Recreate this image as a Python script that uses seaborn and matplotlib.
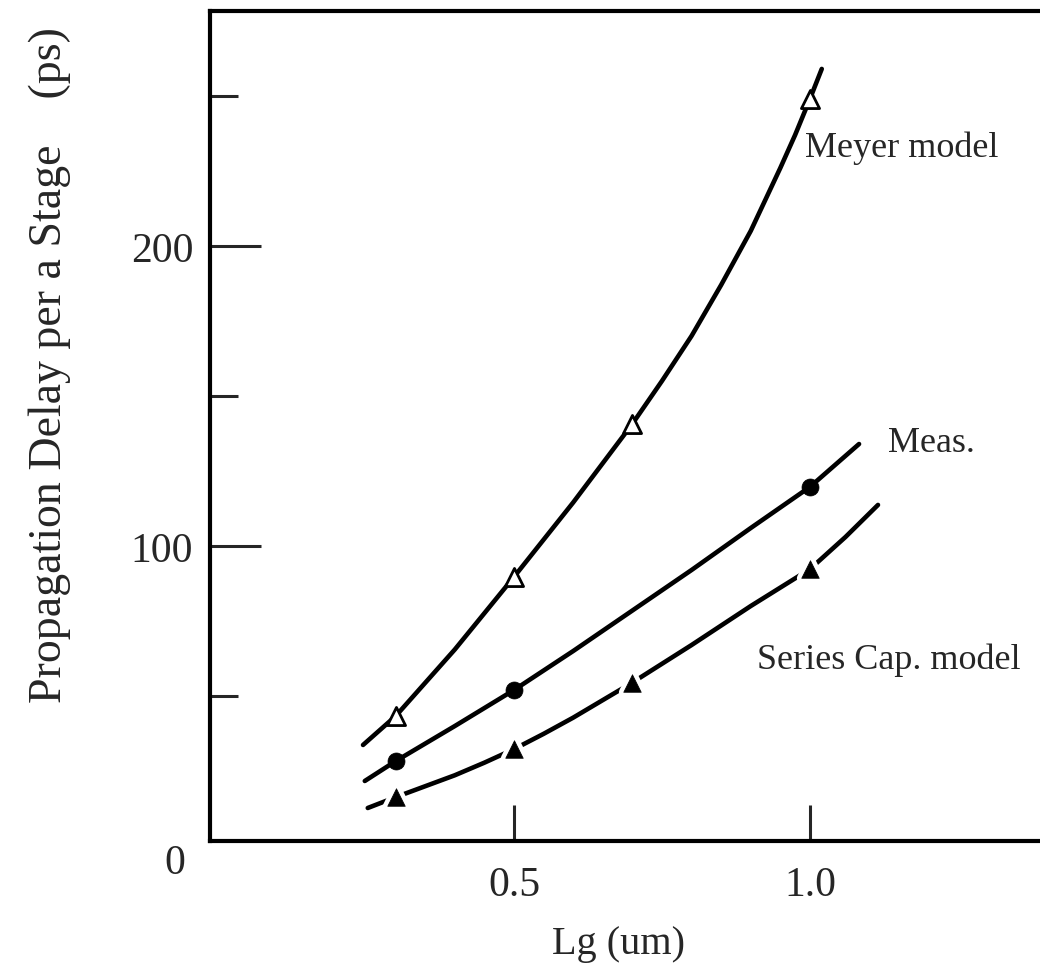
import matplotlib
matplotlib.use("Agg")
import matplotlib.pyplot as plt
import seaborn as sns

# Measured / simulated propagation delay versus gate length
meyer_x = [0.3, 0.5, 0.7, 1.0]
meyer_y = [43.3, 89.7, 140.7, 249.0]
meas_x = [0.3, 0.5, 1.0]
meas_y = [28.3, 52.0, 119.7]
series_x = [0.3, 0.5, 0.7, 1.0]
series_y = [16.3, 32.3, 54.5, 92.3]

# Hand-drawn trend curves through each family of points
meyer_curve_x = [0.245, 0.3, 0.4, 0.5, 0.6, 0.7, 0.75, 0.8, 0.85, 0.9,
                 0.95, 0.975, 1.0, 1.02]
meyer_curve_y = [33.7, 43.3, 65.5, 89.7, 114.5, 140.7, 155.0, 170.0, 187.0,
                 205.0, 226.0, 237.0, 249.0, 259.0]
meas_curve_x = [0.248, 0.3, 0.4, 0.5, 0.6, 0.7, 0.8, 0.9, 1.0, 1.083]
meas_curve_y = [21.7, 28.3, 40.0, 52.0, 65.0, 78.5, 92.0, 106.0, 119.7, 134.0]
series_curve_x = [0.253, 0.3, 0.4, 0.45, 0.5, 0.55, 0.6, 0.7, 0.8, 0.9, 1.0,
                  1.06, 1.115]
series_curve_y = [12.7, 16.3, 23.6, 27.8, 32.3, 37.4, 42.8, 54.5, 67.0, 80.0,
                  92.3, 103.0, 113.7]

y_major = [100, 200]
y_minor = [50, 150, 250]
x_major = [0.5, 1.0]
x_labels = ["0.5", "1.0"]

sns.set_style("white")
plt.rcParams["font.family"] = ["Liberation Serif", "DejaVu Serif"]

fig = plt.figure(figsize=(10.4, 9.78), dpi=100)
ax = fig.add_axes([210 / 1040, 136 / 978, 866 / 1040, 830 / 978])
ax.set_xlim(-0.0135, 1.4495)
ax.set_ylim(1.7, 278.3)

lw = 3.3
for cx, cy in [(meyer_curve_x, meyer_curve_y),
               (meas_curve_x, meas_curve_y),
               (series_curve_x, series_curve_y)]:
    sns.lineplot(x=cx, y=cy, ax=ax, color="black", linewidth=lw,
                 sort=False, estimator=None, solid_capstyle="round",
                 solid_joinstyle="round", zorder=2)

# Meyer model: open triangles
sns.scatterplot(x=meyer_x, y=meyer_y, ax=ax, marker="^", s=170,
                facecolor="white", edgecolor="black", linewidth=2.0, zorder=4)
# Measured: filled circles
sns.scatterplot(x=meas_x, y=meas_y, ax=ax, marker="o", s=150,
                color="black", edgecolor="black", linewidth=0.5, zorder=4)
# Series capacitance model: filled triangles with a small gap in the curve
sns.scatterplot(x=series_x, y=series_y, ax=ax, marker="^", s=160,
                color="white", edgecolor="white", linewidth=7, zorder=3)
sns.scatterplot(x=series_x, y=series_y, ax=ax, marker="^", s=160,
                color="black", edgecolor="black", linewidth=0.5, zorder=4)

# Frame
for side in ["left", "bottom", "top", "right"]:
    ax.spines[side].set_visible(True)
    ax.spines[side].set_color("black")
    ax.spines[side].set_linewidth(3.0)

ax.set_yticks(y_major)
ax.set_yticks(y_minor, minor=True)
ax.set_xticks(x_major)
ax.set_xticklabels(x_labels)
ax.tick_params(axis="y", which="major", direction="in", length=37, width=2.2,
               labelsize=30, pad=12, left=True, right=False)
ax.tick_params(axis="y", which="minor", direction="in", length=20, width=2.2,
               left=True, right=False)
ax.tick_params(axis="x", which="major", direction="in", length=26, width=2.2,
               labelsize=30, pad=18, bottom=True, top=False)
ax.grid(False)

ax.text(-0.073, -5.5, "0", fontsize=30, ha="center", va="center", clip_on=False)

ax.set_xlabel("Lg (um)", fontsize=29)
ax.xaxis.set_label_coords((618 - 210) / 866, (842 - 945) / 830)
ax.xaxis.label.set_va("center")
ax.set_ylabel("Propagation Delay per a Stage    (ps)", fontsize=33)
ax.yaxis.set_label_coords((50 - 210) / 866, (842 - 365) / 830)
ax.yaxis.label.set_va("center")

ax.text(0.992, 233, "Meyer model", fontsize=26, ha="left", va="center")
ax.text(1.132, 134.5, "Meas.", fontsize=26, ha="left", va="center")
ax.text(0.910, 62.3, "Series Cap. model", fontsize=26, ha="left", va="center")

fig.savefig("out.png", dpi=100, facecolor="white")
